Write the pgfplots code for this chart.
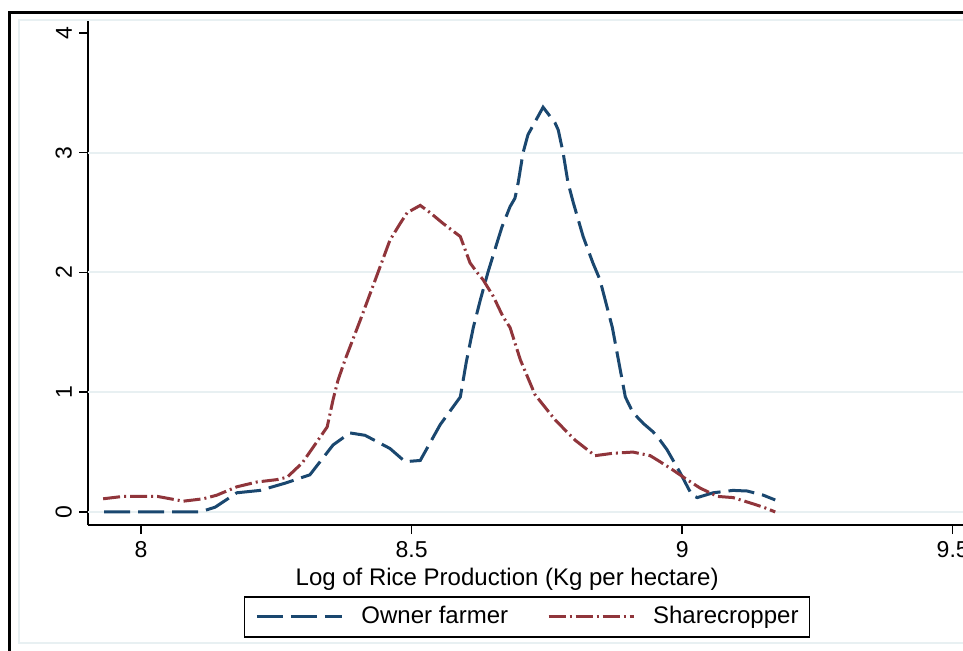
\documentclass[border=0pt]{standalone}
\usepackage{fontspec}
\setmainfont{Liberation Sans}
\usepackage{pgfplots}
\pgfplotsset{compat=1.18}
\definecolor{sblue}{HTML}{1A476F}
\definecolor{sred}{HTML}{90353B}
\definecolor{sgrid}{HTML}{E8F0F2}

\pgfplotstableread{
x y
7.932 0
8.017 0
8.109 0
8.137 0.04
8.177 0.16
8.220 0.18
8.266 0.24
8.312 0.31
8.355 0.56
8.386 0.66
8.414 0.64
8.460 0.53
8.488 0.42
8.516 0.43
8.553 0.73
8.590 0.96
8.601 1.25
8.614 1.54
8.627 1.77
8.641 2.00
8.658 2.25
8.667 2.38
8.682 2.55
8.691 2.62
8.697 2.75
8.706 3.00
8.715 3.15
8.743 3.38
8.765 3.25
8.771 3.19
8.780 3.00
8.789 2.75
8.799 2.58
8.817 2.30
8.835 2.08
8.848 1.94
8.871 1.54
8.895 0.96
8.909 0.83
8.928 0.74
8.946 0.67
8.959 0.60
8.972 0.52
8.996 0.33
9.018 0.14
9.028 0.12
9.057 0.16
9.094 0.18
9.120 0.175
9.150 0.14
9.172 0.10
}\owner

\pgfplotstableread{
x y
7.930 0.11
7.967 0.13
7.998 0.13
8.030 0.13
8.078 0.09
8.115 0.11
8.140 0.14
8.177 0.21
8.214 0.25
8.251 0.27
8.270 0.29
8.298 0.41
8.318 0.54
8.344 0.71
8.355 0.94
8.364 1.10
8.377 1.27
8.405 1.60
8.433 1.94
8.460 2.27
8.479 2.41
8.492 2.50
8.516 2.56
8.534 2.50
8.558 2.41
8.590 2.30
8.599 2.19
8.608 2.08
8.621 2.00
8.632 1.94
8.651 1.80
8.669 1.63
8.682 1.54
8.701 1.27
8.728 0.98
8.765 0.77
8.802 0.60
8.839 0.47
8.872 0.49
8.909 0.50
8.941 0.47
8.959 0.42
8.983 0.35
9.009 0.27
9.033 0.20
9.065 0.13
9.094 0.12
9.126 0.075
9.150 0.04
9.172 0.0
}\share

\begin{document}
\begin{tikzpicture}
\begin{scope}
\clip (0,0) rectangle (481.5pt,325pt);
\fill[white] (0,0) rectangle (481.5pt,325pt);
\draw[black, line width=1.5pt] (4.5pt,-10pt) -- (4.5pt,319pt) -- (500pt,319pt);
\draw[sgrid, line width=1pt] (9.5pt,3.5pt) rectangle (500pt,315pt);
\begin{axis}[
  at={(44pt,62.5pt)}, anchor=south west,
  scale only axis, width=437.5pt, height=252pt,
  xmin=7.902, xmax=9.519, ymin=-0.109, ymax=4.1,
  axis x line*=bottom, axis y line*=left,
  axis line style={black, line width=0.75pt},
  tick align=outside, major tick length=4.5pt,
  tick style={black, line width=0.75pt},
  xtick={8,8.5,9,9.5}, xticklabels={8,8.5,9,9.5},
  ytick={0,1,2,3,4},
  extra y ticks={0,1,2,3}, extra y tick labels={},
  extra y tick style={grid=major, major tick length=0pt, major grid style={sgrid, line width=1pt}},
  /pgf/number format/assume math mode=true,
  ticklabel style={font=\fontsize{11.5}{13}\selectfont},
  yticklabel style={rotate=90, anchor=south},
  xlabel={Log of Rice Production (Kg per hectare)},
  xlabel style={at={(axis description cs:0.479,-0.108)}, anchor=center, font=\fontsize{12}{14}\selectfont},
  legend columns=2,
  legend cell align=left,
  legend image code/.code={\draw[#1] (0pt,0pt) -- (42.5pt,0pt);},
  legend style={at={(axis description cs:0.5017,-0.1825)}, anchor=center,
    draw=black, line width=0.6pt, inner xsep=5.5pt, inner ysep=4.25pt,
    nodes={inner sep=0pt, text height=9pt, text depth=2.5pt, font=\fontsize{12}{14}\selectfont},
    column sep=9pt,
    /tikz/every even column/.append style={column sep=19.5pt}},
]
\addplot[sblue, line width=1.5pt, dash pattern=on 13pt off 4pt] table[x=x,y=y]{\owner};
\addlegendentry{Owner farmer}
\addplot[sred, line width=1.5pt, dash pattern=on 8.5pt off 2pt on 1pt off 2pt] table[x=x,y=y]{\share};
\addlegendentry{Sharecropper}
\end{axis}
\end{scope}
\pgfresetboundingbox
\useasboundingbox (0,0) rectangle (481.5pt,325pt);
\end{tikzpicture}
\end{document}
